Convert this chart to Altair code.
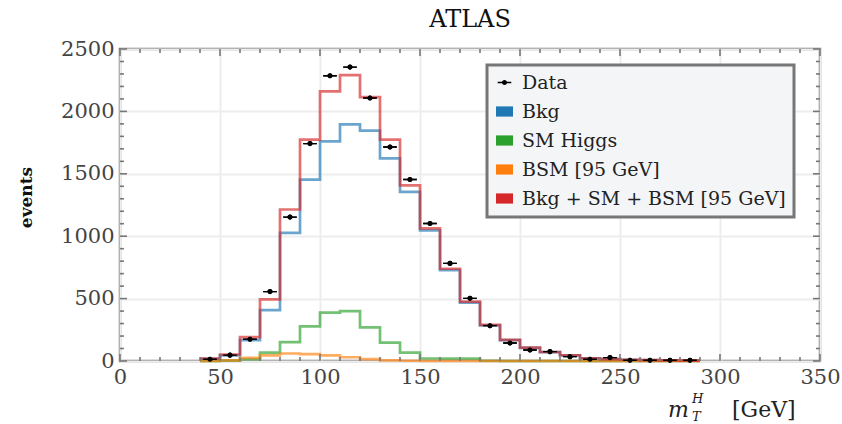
import altair as alt
import pandas as pd

# ---- data ----
edges = [40, 50, 60, 70, 80, 90, 100, 110, 120, 130, 140, 150, 160, 170, 180,
         190, 200, 210, 220, 230, 240, 250, 260, 270, 280, 290]
centers = [45, 55, 65, 75, 85, 95, 105, 115, 125, 135, 145, 155, 165, 175, 185,
           195, 205, 215, 225, 235, 245, 255, 265, 275, 285]
bkg = [18, 45, 168, 408, 1027, 1454, 1760, 1896, 1846, 1624, 1355, 1046, 728,
       468, 285, 167, 105, 71, 45, 22, 15, 10, 7, 5, 3]
sm_higgs = [0, 3, 14, 67, 152, 278, 387, 400, 270, 147, 67, 20, 19, 19, 2,
            0, 0, 0, 0, 0, 0, 0, 0, 0, 0]
bsm95 = [0, 5, 25, 45, 60, 55, 45, 30, 15, 5, 2, 0, 0, 0, 0,
         0, 0, 0, 0, 0, 0, 0, 0, 0, 0]
total = [20, 52, 192, 494, 1214, 1774, 2160, 2290, 2115, 1774, 1408, 1063, 739,
         475, 290, 170, 107, 72, 46, 22, 15, 10, 7, 5, 3]
data_vals = [14, 47, 174, 556, 1153, 1742, 2286, 2355, 2107, 1715, 1454, 1102,
             782, 502, 283, 144, 88, 75, 35, 14, 27, 6, 6, 6, 6]

series_names = ["Data", "Bkg", "SM Higgs", "BSM [95 GeV]", "Bkg + SM + BSM [95 GeV]"]
series_colors = ["#000000", "#1f77b4", "#2ca02c", "#ff7f0e", "#d62728"]

x_major = [0, 50, 100, 150, 200, 250, 300, 350]
y_major = [0, 500, 1000, 1500, 2000, 2500]
x_minor = list(range(0, 351, 10))
y_minor = list(range(0, 2501, 100))

W, H = 700, 312
FONT = "DejaVu Serif"

# ---- tables ----
def step_table(name, vals):
    rows = [{"series": name, "x": edges[i], "y": v} for i, v in enumerate(vals)]
    rows.append({"series": name, "x": edges[-1], "y": vals[-1]})
    return pd.DataFrame(rows)

pts = pd.DataFrame({"series": "Data", "x": centers, "y": data_vals})

xscale = alt.Scale(domain=[0, 350], nice=False, zero=False)
yscale = alt.Scale(domain=[0, 2500], nice=False)
color_scale = alt.Scale(domain=series_names, range=series_colors)

data_path = ("M0.3,0 A0.3,0.3,0,1,1,-0.3,0 A0.3,0.3,0,1,1,0.3,0 Z "
             "M-0.8,-0.08 L-0.25,-0.08 L-0.25,0.08 L-0.8,0.08 Z "
             "M0.25,-0.08 L0.8,-0.08 L0.8,0.08 L0.25,0.08 Z")
rect_path = "M-1,-0.6 L1,-0.6 L1,0.6 L-1,0.6 Z"
shape_scale = alt.Scale(domain=series_names,
                        range=[data_path, rect_path, rect_path, rect_path, rect_path])

xaxis = alt.Axis(values=x_major, grid=True, gridColor="#ededed", gridWidth=2,
                 domain=False, ticks=False, labelFont=FONT, labelFontSize=21,
                 labelColor="#444", labelPadding=5, labelFlush=False, title=None,
                 format="d")
yaxis = alt.Axis(values=y_major, grid=True, gridColor="#ededed", gridWidth=2,
                 domain=False, ticks=False, labelFont=FONT, labelFontSize=21,
                 labelColor="#444", labelPadding=6, title="events", format="d",
                 titleFont=FONT, titleFontSize=17, titleFontWeight="bold",
                 titleColor="#111", titleAngle=270, titleX=-94, titleY=148,
                 titleAlign="center", titleBaseline="middle")

legend_kw = dict(orient="none", legendX=367, legendY=16, title=None,
                 labelFont=FONT, labelFontSize=19, labelColor="#222", labelLimit=0,
                 symbolSize=289, symbolOpacity=1, symbolStrokeWidth=0,
                 rowPadding=9, padding=8, labelOffset=8,
                 fillColor="#f4f5f7", strokeColor="#777777")

X = alt.X("x:Q", scale=xscale, axis=xaxis)
Y = alt.Y("y:Q", scale=yscale, axis=yaxis)


def data_points(with_legend):
    lg = alt.Legend(**legend_kw) if with_legend else None
    return (
        alt.Chart(pts)
        .mark_point(filled=True, opacity=1, size=289, strokeWidth=0)
        .encode(
            x=X, y=Y,
            color=alt.Color("series:N", scale=color_scale, legend=lg),
            shape=alt.Shape("series:N", scale=shape_scale, legend=lg),
        )
    )


layers = []
for name, vals in [("Bkg", bkg), ("SM Higgs", sm_higgs),
                   ("BSM [95 GeV]", bsm95), ("Bkg + SM + BSM [95 GeV]", total)]:
    layers.append(
        alt.Chart(step_table(name, vals))
        .mark_line(interpolate="step-after", strokeWidth=2.7, opacity=0.66)
        .encode(x=X, y=Y,
                color=alt.Color("series:N", scale=color_scale, legend=None))
    )

# inward frame ticks
tick_col = "#777777"
xt = pd.DataFrame({"v": x_minor, "major": [v % 50 == 0 for v in x_minor]})
yt = pd.DataFrame({"v": y_minor, "major": [v % 500 == 0 for v in y_minor]})

def xticks(major, y0, y1):
    return (alt.Chart(xt).transform_filter(f"datum.major == {str(major).lower()}")
            .mark_rule(color=tick_col, strokeWidth=1.6)
            .encode(x=alt.X("v:Q", scale=xscale, axis=xaxis),
                    y=alt.value(y0), y2=alt.value(y1)))

def yticks(major, x0, x1):
    return (alt.Chart(yt).transform_filter(f"datum.major == {str(major).lower()}")
            .mark_rule(color=tick_col, strokeWidth=1.6)
            .encode(y=alt.Y("v:Q", scale=yscale, axis=yaxis),
                    x=alt.value(x0), x2=alt.value(x1)))

tick_layers = [
    xticks(False, H, H - 4), xticks(True, H, H - 7),
    xticks(False, 0, 4), xticks(True, 0, 7),
    yticks(False, 0, 4), yticks(True, 0, 7),
    yticks(False, W, W - 4), yticks(True, W, W - 7),
]

# x-axis title  m_T^H  [GeV]
def txt(t, x, y, size, style="normal"):
    return (alt.Chart(pd.DataFrame({"t": [t]}))
            .mark_text(font=FONT, fontSize=size, fontStyle=style, align="left",
                       baseline="alphabetic", color="#222")
            .encode(x=alt.value(x), y=alt.value(y), text="t:N"))

xtitle = [
    txt("m", 548, 368, 22, "italic"),
    txt("T", 572, 372, 13, "italic"),
    txt("H", 572, 354, 13, "italic"),
    txt("[GeV]", 612, 368, 22),
]

chart = (
    alt.layer(data_points(True), *layers, *tick_layers, data_points(False), *xtitle)
    .properties(
        width=W, height=H,
        title=alt.TitleParams("ATLAS", font=FONT, fontSize=24, fontWeight="normal",
                              color="#111", anchor="middle", offset=6),
        padding={"left": 120, "top": 49, "right": 22, "bottom": 63},
        autosize=alt.AutoSizeParams(type="none"),
        background="white",
    )
    .configure_view(stroke="#777777", strokeWidth=2.5)
    .configure_legend(strokeWidth=3)
)

chart.save("out.html", embed_options={"renderer": "svg", "actions": False})
